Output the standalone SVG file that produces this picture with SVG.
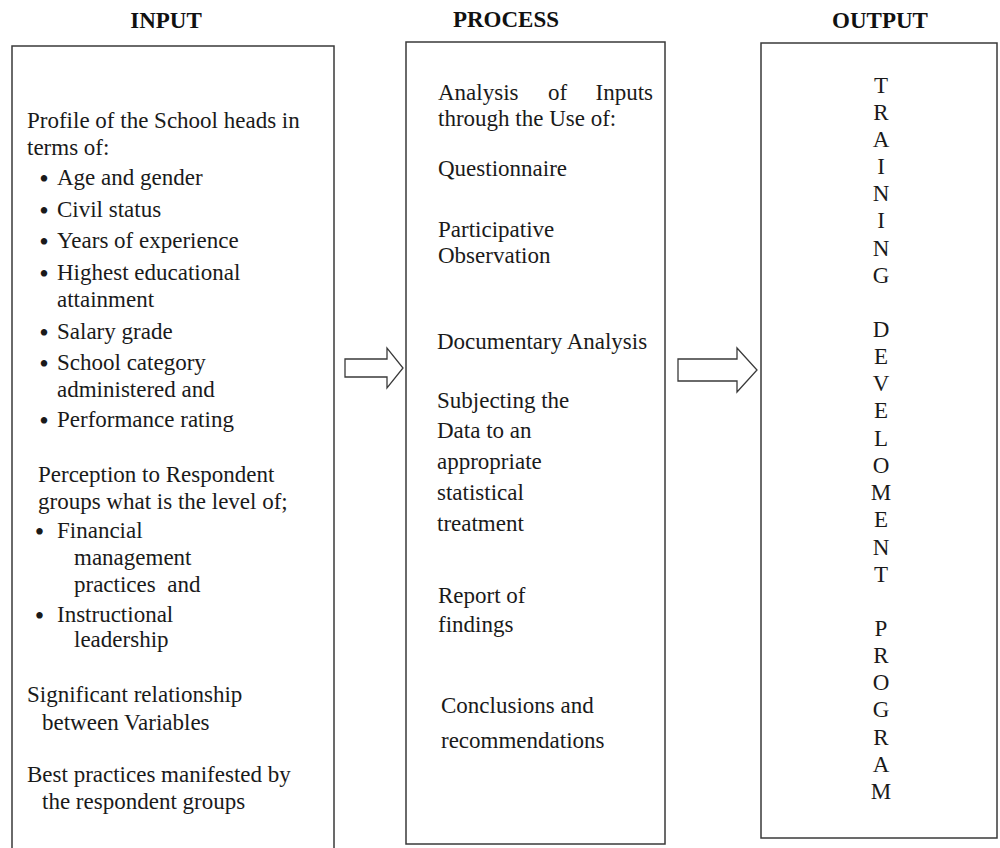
<svg xmlns="http://www.w3.org/2000/svg" width="1000" height="848" viewBox="0 0 1000 848">
<style>
  .t { font-family: "Liberation Serif", "Times New Roman", serif; font-size: 23px; fill: #1a1a1a; }
  .b { font-family: "Liberation Serif", "Times New Roman", serif; font-size: 27px; fill: #1a1a1a; }
  .h { font-family: "Liberation Serif", "Times New Roman", serif; font-size: 23px; font-weight: bold; fill: #111; text-anchor: middle; }
  .box { fill: #fff; stroke: #3a3a3a; stroke-width: 1.5; }
  .arrow { fill: #fff; stroke: #3a3a3a; stroke-width: 1.3; stroke-linejoin: miter; }
  .v { text-anchor: middle; }
</style>
<rect width="1000" height="848" fill="#fff"/>

<g id="titles">
  <text class="h" x="166" y="28">INPUT</text>
  <text class="h" x="506" y="27">PROCESS</text>
  <text class="h" x="880" y="28">OUTPUT</text>
</g>

<g id="input">
  <rect class="box" x="12" y="46" width="322" height="810"/>
  <text class="t" x="27" y="128">Profile of the School heads in</text>
  <text class="t" x="27" y="155">terms of:</text>
  <text class="b" x="39.3" y="187.5">•</text><text class="t" x="57" y="185">Age and gender</text>
  <text class="b" x="39.3" y="219.5">•</text><text class="t" x="57" y="217">Civil status</text>
  <text class="b" x="39.3" y="250.5">•</text><text class="t" x="57" y="248">Years of experience</text>
  <text class="b" x="39.3" y="282.5">•</text><text class="t" x="57" y="280">Highest educational</text>
  <text class="t" x="57" y="307">attainment</text>
  <text class="b" x="39.3" y="341.5">•</text><text class="t" x="57" y="339">Salary grade</text>
  <text class="b" x="39.3" y="372.5">•</text><text class="t" x="57" y="370">School category</text>
  <text class="t" x="57" y="397">administered and</text>
  <text class="b" x="39.3" y="429.5">•</text><text class="t" x="57" y="427">Performance rating</text>
  <text class="t" x="38" y="482">Perception to Respondent</text>
  <text class="t" x="38" y="509">groups what is the level of;</text>
  <text class="b" x="34.8" y="540.5">•</text><text class="t" x="57" y="538">Financial</text>
  <text class="t" x="74" y="565">management</text>
  <text class="t" x="74" y="592" xml:space="preserve">practices  and</text>
  <text class="b" x="34.8" y="624.5">•</text><text class="t" x="57" y="622">Instructional</text>
  <text class="t" x="74" y="647">leadership</text>
  <text class="t" x="27" y="702">Significant relationship</text>
  <text class="t" x="42" y="730">between Variables</text>
  <text class="t" x="27" y="782">Best practices manifested by</text>
  <text class="t" x="42" y="809">the respondent groups</text>
</g>

<g id="process">
  <rect class="box" x="406" y="42" width="259" height="802"/>
  <text class="t" x="438" y="100">Analysis</text>
  <text class="t" x="548" y="100">of</text>
  <text class="t" x="653" y="100" text-anchor="end">Inputs</text>
  <text class="t" x="438" y="126">through the Use of:</text>
  <text class="t" x="438" y="176">Questionnaire</text>
  <text class="t" x="438" y="237">Participative</text>
  <text class="t" x="438" y="263">Observation</text>
  <text class="t" x="437" y="349">Documentary Analysis</text>
  <text class="t" x="437" y="408">Subjecting the</text>
  <text class="t" x="437" y="438">Data to an</text>
  <text class="t" x="437" y="469">appropriate</text>
  <text class="t" x="437" y="500">statistical</text>
  <text class="t" x="437" y="531">treatment</text>
  <text class="t" x="438" y="603">Report of</text>
  <text class="t" x="438" y="632">findings</text>
  <text class="t" x="441" y="713">Conclusions and</text>
  <text class="t" x="441" y="748">recommendations</text>
</g>

<g id="output">
  <rect class="box" x="761" y="43" width="236" height="795"/>
  <g class="t v">
    <text x="881" y="93">T</text>
    <text x="881" y="120">R</text>
    <text x="881" y="147">A</text>
    <text x="881" y="174">I</text>
    <text x="881" y="201">N</text>
    <text x="881" y="228">I</text>
    <text x="881" y="256">N</text>
    <text x="881" y="283">G</text>
    <text x="881" y="337">D</text>
    <text x="881" y="364">E</text>
    <text x="881" y="391">V</text>
    <text x="881" y="418">E</text>
    <text x="881" y="446">L</text>
    <text x="881" y="473">O</text>
    <text x="881" y="500">M</text>
    <text x="881" y="527">E</text>
    <text x="881" y="555">N</text>
    <text x="881" y="582">T</text>
    <text x="881" y="636">P</text>
    <text x="881" y="663">R</text>
    <text x="881" y="690">O</text>
    <text x="881" y="717">G</text>
    <text x="881" y="745">R</text>
    <text x="881" y="772">A</text>
    <text x="881" y="799">M</text>
  </g>
</g>

<g id="connectors">
  <polygon class="arrow" points="345,359 387,359 387,348 403,368 387,388 387,377 345,377"/>
  <polygon class="arrow" points="678,359 737,359 737,348 757,370 737,392 737,381 678,381"/>
</g>
</svg>
